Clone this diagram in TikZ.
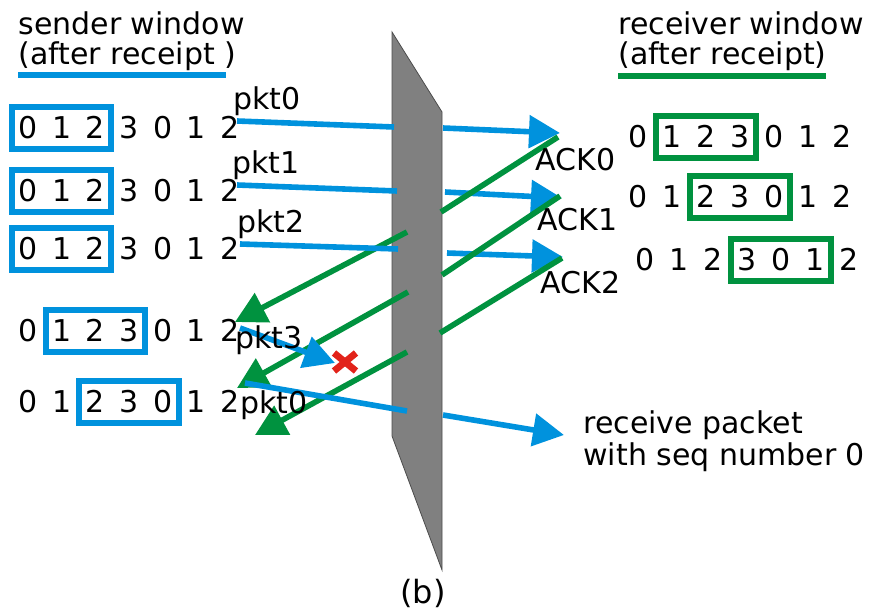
\documentclass[tikz,border=0pt]{standalone}
\usepackage{fontspec}
\setmainfont{DejaVu Sans}
\usetikzlibrary{arrows.meta,fit}
\definecolor{pktblue}{RGB}{0,146,221}
\definecolor{ackgreen}{RGB}{0,146,63}
\definecolor{lostred}{RGB}{226,35,26}
\begin{document}
\begin{tikzpicture}[x=0.5pt,y=-0.5pt,font=\fontsize{15}{16}\selectfont,
	digit/.style={inner sep=0pt,text height=10.9pt,text depth=0pt},
	sbox/.style={draw=pktblue,line width=3pt,inner xsep=3pt,inner ysep=4.8pt},
	rbox/.style={sbox,draw=ackgreen},
	lbl/.style={anchor=base west,inner sep=0pt},
	pkt/.style={draw=pktblue,line width=2.8pt},
	ack/.style={draw=ackgreen,line width=2.8pt},
	tip/.style={-{Triangle[length=15.5pt,width=16pt]}}]
\useasboundingbox (0,0) rectangle (873,615);

\fill[gray,draw=black!70,line width=0.4pt] (392,32) -- (442,112) -- (442,570) -- (392,436) -- cycle;

\node[lbl] (stitle) at (18,35) {sender window};
\node[lbl] (ssub) at (18,65) {(after receipt )};
\draw[pkt] ([yshift=-5pt]ssub.base west) -- ++(208,0);
\node[lbl] (rtitle) at (618,35) {receiver window};
\node[lbl] (rsub) at (618,65) {(after receipt)};
\draw[ack] ([yshift=-5.5pt]rsub.base west) -- ++(208,0);

\foreach \y/\w [count=\r] in {128/1,191/1,249/1,331/2,402/3}{
	\foreach \d [count=\n] in {0,1,2,3,0,1,2}
		\node[digit] (s\r\n) at ({28+33.7*(\n-1)},\y) {\d};
	\pgfmathtruncatemacro\k{\w+2}
	\node[sbox,fit=(s\r\w)(s\r\k)] (sw\r) {};
}
\foreach \x/\y/\w [count=\r] in {638/137/2,638/197/3,645/260/4}{
	\foreach \d [count=\n] in {0,1,2,3,0,1,2}
		\node[digit] (r\r\n) at ({\x+34*(\n-1)},\y) {\d};
	\pgfmathtruncatemacro\k{\w+2}
	\node[rbox,fit=(r\r\w)(r\r\k)] (rw\r) {};
}

\foreach \ax/\ay/\bx/\by [count=\n] in {407/232/235/322,408/292/237/388,407/352/255/435}{
	\coordinate (al\n) at (\ax,\ay);
	\coordinate (ae\n) at (\bx,\by);
	\draw[ack,tip] (al\n) -- (ae\n);
}
\foreach \ax/\ay/\bx/\by/\cx/\cy/\dx/\dy [count=\n] in {237/121/394/127/443/128/560/133,237/185/397/191/445/192/562/198,240/244/398/249/447/253/563/257,245/383/407/411/443/415/564/435}{
	\coordinate (ps\n) at (\ax,\ay);
	\coordinate (pl\n) at (\bx,\by);
	\coordinate (pr\n) at (\cx,\cy);
	\coordinate (pe\n) at (\dx,\dy);
	\draw[pkt] (ps\n) -- (pl\n);
	\draw[pkt,tip] (pr\n) -- (pe\n);
}
\coordinate (ps5) at (240,328);
\coordinate (pe5) at (335,363);
\draw[pkt,tip] (ps5) -- (pe5);
\foreach \ax/\ay/\bx/\by [count=\n] in {558/137/441/212,560/196/442/275,562/258/440/333}{
	\coordinate (as\n) at (\ax,\ay);
	\coordinate (ar\n) at (\bx,\by);
	\draw[ack] (as\n) -- (ar\n);
}

\coordinate (lost) at (345,362);
\draw[lostred,line width=3.4pt] ([shift={(-11,-9)}]lost) -- ([shift={(11,9)}]lost)
	([shift={(-11,9)}]lost) -- ([shift={(11,-9)}]lost);

\node[lbl] (pkt0) at (233,110) {pkt0};
\node[lbl] (pkt1) at (232,173) {pkt1};
\node[lbl] (pkt2) at (237,232) {pkt2};
\node[lbl] (pkt3) at (235,348) {pkt3};
\node[lbl] (pkt0b) at (240,413) {pkt0};
\node[lbl] (ack0) at (535,170) {ACK0};
\node[lbl] (ack1) at (537,230) {ACK1};
\node[lbl] (ack2) at (540,293) {ACK2};
\node[lbl] (recv) at (583,433) {receive packet};
\node[lbl] (recv2) at (583,465) {with seq number 0};
\node[font=\fontsize{16}{18}\selectfont] (cap) at (423,593) {(b)};
\end{tikzpicture}
\end{document}
